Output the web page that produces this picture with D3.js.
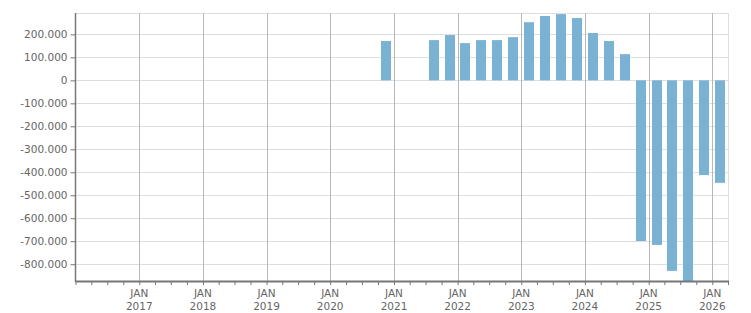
<!DOCTYPE html>
<html>
<head>
<meta charset="utf-8">
<script src="https://cdn.jsdelivr.net/npm/d3@7"></script>
<style>
  body { margin: 0; background: #fff; }
  text { font-family: "DejaVu Sans", Verdana, sans-serif; font-size: 10.5px; fill: #666; }
</style>
</head>
<body>
<div id="chart"></div>
<script>
// quarterly values, keyed by quarter start
const quarters = ["2020-10", "2021-07", "2021-10", "2022-01", "2022-04", "2022-07", "2022-10",
                  "2023-01", "2023-04", "2023-07", "2023-10", "2024-01", "2024-04", "2024-07",
                  "2024-10", "2025-01", "2025-04", "2025-07", "2025-10", "2026-01"];
const values = [171000, 175000, 197000, 162000, 175000, 175000, 188000,
                253000, 280000, 288000, 271000, 206000, 171000, 114000,
                -699000, -716000, -829000, -880000, -412000, -446000];
const yTicks = [200000, 100000, 0, -100000, -200000, -300000, -400000, -500000, -600000, -700000, -800000];
const years = [2017, 2018, 2019, 2020, 2021, 2022, 2023, 2024, 2025, 2026];

const W = 751, H = 313;
const margin = { top: 13, right: 23, bottom: 32, left: 75.5 };

const svg = d3.select("#chart").append("svg")
    .attr("width", W)
    .attr("height", H);

const parse = d3.timeParse("%Y-%m");
const data = quarters.map((q, i) => ({ date: parse(q), value: values[i] }));

const x = d3.scaleTime()
    .domain([new Date(2016, 0, 1), new Date(2026, 3, 1)])
    .range([margin.left, W - margin.right]);
const y = d3.scaleLinear()
    .domain([-873000, 293000])
    .range([H - margin.bottom, margin.top]);

const loc = d3.formatLocale({ decimal: ",", thousands: ".", grouping: [3], currency: ["", ""], minus: "-" });
const fmt = loc.format(",d");

const pTop = margin.top, pBottom = H - margin.bottom, pLeft = margin.left, pRight = W - margin.right;

// horizontal grid
svg.append("g").selectAll("line")
    .data(yTicks)
    .join("line")
    .attr("x1", pLeft).attr("x2", pRight)
    .attr("y1", d => Math.round(y(d)) + 0.5).attr("y2", d => Math.round(y(d)) + 0.5)
    .attr("stroke", "#dedede");
// top / right border
svg.append("line").attr("x1", pLeft).attr("x2", pRight).attr("y1", pTop + 0.5).attr("y2", pTop + 0.5).attr("stroke", "#dedede");
svg.append("line").attr("x1", pRight + 0.5).attr("x2", pRight + 0.5).attr("y1", pTop).attr("y2", pBottom).attr("stroke", "#dedede");

// vertical year grid
const yearDates = years.map(yr => new Date(yr, 0, 1));
svg.append("g").selectAll("line")
    .data(yearDates)
    .join("line")
    .attr("x1", d => Math.round(x(d)) + 0.5).attr("x2", d => Math.round(x(d)) + 0.5)
    .attr("y1", pTop).attr("y2", pBottom)
    .attr("stroke", "#b8b8b8");

svg.append("clipPath").attr("id", "clip")
  .append("rect").attr("x", pLeft).attr("y", pTop).attr("width", pRight - pLeft).attr("height", pBottom - pTop);

// bars
const bw = 10;
svg.append("g").attr("clip-path", "url(#clip)").selectAll("rect")
    .data(data)
    .join("rect")
    .attr("x", d => Math.round((x(d.date) + x(d3.timeMonth.offset(d.date, 3))) / 2 - bw / 2))
    .attr("width", bw)
    .attr("y", d => y(Math.max(0, d.value)))
    .attr("height", d => Math.abs(y(d.value) - y(0)))
    .attr("fill", "#7ab2d3");

// y axis
const yAxis = svg.append("g")
    .attr("transform", `translate(${pLeft},0)`)
    .call(d3.axisLeft(y).tickValues(yTicks).tickFormat(fmt).tickSize(5).tickPadding(3));
yAxis.select(".domain").remove();
yAxis.selectAll(".tick line").attr("stroke", "#777");
yAxis.selectAll("text").attr("fill", "#666").style("font-family", "DejaVu Sans").style("font-size", "10.5px");
svg.append("line").attr("x1", pLeft).attr("x2", pLeft).attr("y1", pTop).attr("y2", pBottom + 1)
    .attr("stroke", "#777").attr("stroke-width", 1.5);

// x axis: quarterly minor ticks
const xAxis = svg.append("g")
    .attr("transform", `translate(0,${pBottom})`)
    .call(d3.axisBottom(x).ticks(d3.timeMonth.every(3)).tickSize(4).tickFormat(""));
xAxis.select(".domain").remove();
xAxis.selectAll(".tick line").attr("stroke", "#777");
svg.append("line").attr("x1", pLeft).attr("x2", pRight + 1).attr("y1", pBottom + 0.5).attr("y2", pBottom + 0.5)
    .attr("stroke", "#777").attr("stroke-width", 2);

// year labels
const lab = svg.append("g").selectAll("text")
    .data(yearDates)
    .join("text")
    .attr("x", d => x(d))
    .attr("text-anchor", "middle");
lab.append("tspan").attr("x", d => x(d)).attr("y", pBottom + 16).text("JAN");
lab.append("tspan").attr("x", d => x(d)).attr("y", pBottom + 29).text(d => d.getFullYear());
</script>
</body>
</html>
